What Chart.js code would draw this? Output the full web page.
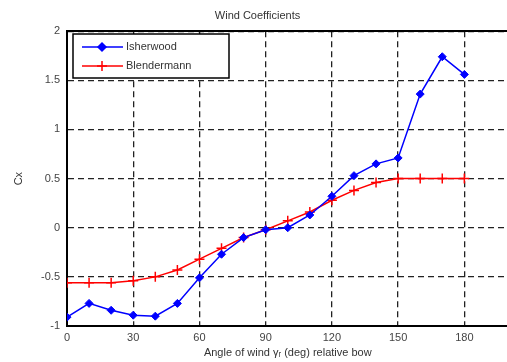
<!DOCTYPE html>
<html>
<head>
<meta charset="utf-8">
<script src="https://cdn.jsdelivr.net/npm/chart.js@4/dist/chart.umd.min.js"></script>
<style>
  html, body { margin: 0; padding: 0; background: #fff; overflow: hidden; }
  #wrap { width: 515px; height: 362px; }
</style>
</head>
<body>
<div id="wrap"><canvas id="windChart"></canvas></div>
<script>
// wind angle relative to bow (deg)
const angles = [0, 10, 20, 30, 40, 50, 60, 70, 80, 90, 100, 110, 120, 130, 140, 150, 160, 170, 180];
const isherwood = [-0.91, -0.77, -0.84, -0.89, -0.90, -0.77, -0.51, -0.27, -0.10, -0.02, 0.00, 0.13, 0.32, 0.53, 0.65, 0.71, 1.36, 1.74, 1.56];
const blendermann = [-0.56, -0.56, -0.56, -0.54, -0.50, -0.43, -0.32, -0.21, -0.10, -0.02, 0.07, 0.16, 0.28, 0.38, 0.46, 0.50, 0.50, 0.50, 0.50];
const xTicks = [0, 30, 60, 90, 120, 150, 180];
const yTicks = [-1, -0.5, 0, 0.5, 1, 1.5, 2];

const font = "'Liberation Sans', Arial, sans-serif";

// legend box drawn inside the plot, top-left (matlab style)
const innerLegend = {
  id: "innerLegend",
  afterDatasetsDraw(chart) {
    const ctx = chart.ctx;
    const x0 = 73, y0 = 34, w = 156, h = 44;
    ctx.save();
    ctx.fillStyle = "#fff";
    ctx.fillRect(x0, y0, w, h);
    ctx.lineWidth = 1.5;
    ctx.strokeStyle = "#000";
    ctx.strokeRect(x0, y0, w, h);
    chart.data.datasets.forEach((ds, i) => {
      const y = y0 + 13 + i * 19;
      ctx.strokeStyle = ds.borderColor;
      ctx.lineWidth = 1.5;
      ctx.beginPath();
      ctx.moveTo(x0 + 9, y);
      ctx.lineTo(x0 + 50, y);
      ctx.stroke();
      ctx.fillStyle = ds.pointBackgroundColor;
      ctx.strokeStyle = ds.borderColor;
      Chart.helpers.drawPoint(ctx, {
        pointStyle: ds.pointStyle,
        radius: ds.pointRadius,
        rotation: 0,
        borderWidth: 1.5,
      }, x0 + 29, y);
      ctx.fillStyle = "#333";
      ctx.font = "11px " + font;
      ctx.textBaseline = "middle";
      ctx.fillText(ds.label, x0 + 53, y);
    });
    ctx.restore();
  },
};

new Chart(document.getElementById("windChart"), {
  type: "line",
  data: {
    datasets: [
      {
        label: "Isherwood",
        data: angles.map((a, i) => ({ x: a, y: isherwood[i] })),
        borderColor: "#0000ff",
        backgroundColor: "#0000ff",
        pointBackgroundColor: "#0000ff",
        borderWidth: 1.5,
        pointStyle: "rectRot",
        pointRadius: 4,
        pointBorderWidth: 1,
      },
      {
        label: "Blendermann",
        data: angles.map((a, i) => ({ x: a, y: blendermann[i] })),
        borderColor: "#ff0000",
        backgroundColor: "#ff0000",
        pointBackgroundColor: "#ff0000",
        borderWidth: 1.5,
        pointStyle: "cross",
        pointRadius: 5,
        pointBorderWidth: 1.5,
      },
    ],
  },
  options: {
    responsive: true,
    maintainAspectRatio: false,
    animation: false,
    layout: { padding: 0 },
    scales: {
      x: {
        type: "linear",
        min: 0,
        max: 200,
        afterBuildTicks: (s) => { s.ticks = xTicks.map((v) => ({ value: v })); },
        afterFit: (s) => { s.height = 36; },
        grid: { color: "#222", lineWidth: 1.3, drawTicks: false },
        border: { color: "#000", width: 2, dash: [6, 4] },
        ticks: { color: "#444", font: { family: font, size: 11 }, padding: 5, maxRotation: 0, callback: (v) => String(v) },
        title: {
          display: true,
          text: "Angle of wind \u03b3\u1d63 (deg) relative bow",
          color: "#333",
          font: { family: font, size: 11 },
          padding: { top: 0, bottom: 2 },
        },
      },
      x2: {
        type: "linear",
        position: "top",
        min: 0,
        max: 200,
        grid: { display: false, drawTicks: false },
        border: { color: "#000", width: 2 },
        ticks: { display: false },
      },
      y: {
        min: -1,
        max: 2,
        afterBuildTicks: (s) => { s.ticks = yTicks.map((v) => ({ value: v })); },
        afterFit: (s) => { s.width = 67; },
        grid: { color: "#222", lineWidth: 1.3, drawTicks: false },
        border: { color: "#000", width: 2, dash: [6, 4] },
        ticks: { color: "#444", font: { family: font, size: 11 }, padding: 7, callback: (v) => String(v) },
        title: {
          display: true,
          text: "Cx",
          color: "#333",
          font: { family: font, size: 11 },
          padding: { top: 12, bottom: 0 },
        },
      },
    },
    plugins: {
      legend: { display: false },
      tooltip: { enabled: false },
      title: {
        display: true,
        text: "Wind Coefficients",
        color: "#333",
        font: { family: font, size: 11, weight: "normal" },
        padding: { top: 9, bottom: 9 },
      },
    },
  },
  plugins: [innerLegend],
});
</script>
</body>
</html>
